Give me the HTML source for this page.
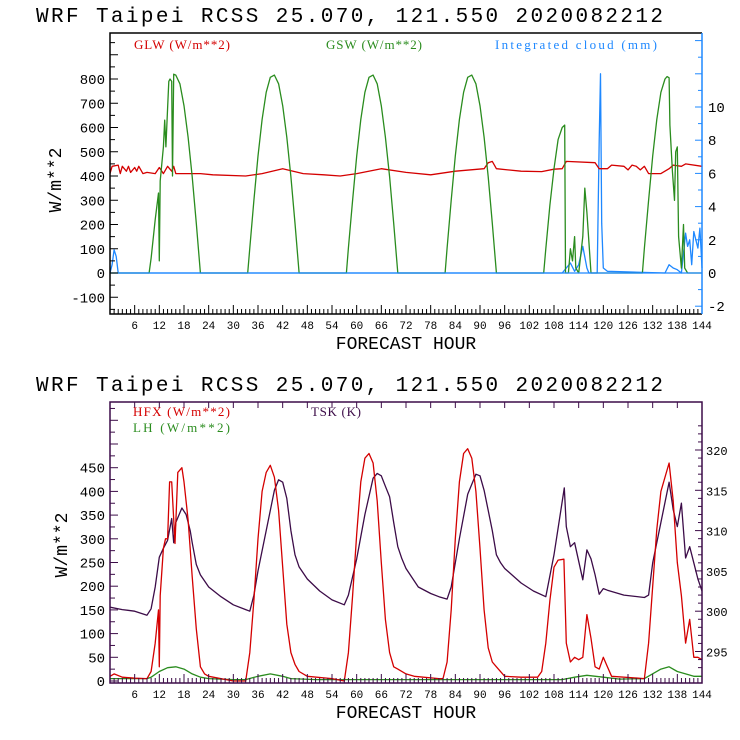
<!DOCTYPE html>
<html><head><meta charset="utf-8"><style>
html,body{margin:0;padding:0;background:#fff;}
svg{display:block;font-family:"Liberation Mono",monospace;}
</style></head><body>
<svg id="chart" width="740" height="740" viewBox="0 0 740 740" xmlns="http://www.w3.org/2000/svg">
<rect width="740" height="740" fill="#fff"/>
<g id="top"></g>
<g id="bot"></g>
</svg>
<script>
// ---- top panel data ----
const gswHours=[0,9.5,10,11,11.8,12,12.2,13,13.3,13.6,14,14.3,14.6,15,15.2,15.5,16,17,18,19,20,21,22,33.5,34,35,36,37,38,39,40,41,42,43,44,45,46,57.5,58,59,60,61,62,63,64,65,66,67,68,69,70,81.5,82,83,84,85,86,87,88,89,90,91,92,93,94,105.5,106,107,108,109,110,110.6,110.8,111.5,112,112.5,113,113.3,114,115,115.5,116,117,129.5,130,131,132,133,134,135,135.5,136,136.2,136.8,137.3,137.6,138,138.3,139,139.5,139.8,140.5,144];
const gswVals=[0,0,60,220,330,50,380,520,630,520,680,790,800,790,400,820,816,780,690,560,397,205,0,0,103,300,482,633,745,807,816,780,690,560,397,205,0,0,103,300,482,633,745,807,816,780,690,560,397,205,0,0,103,300,482,633,745,807,816,780,690,560,397,205,0,0,100,280,430,550,600,610,0,0,100,50,150,20,0,150,350,250,0,0,103,300,482,633,745,800,810,805,610,420,300,500,520,150,20,200,20,0,0];
const glwHours=[0,0.5,2,2.5,3,4,4.5,5,6,6.5,7,8,9,11,12,13,14,15,15.5,16,22,25,33,37,42,47,52,56,60,66,72,78,84,91,92,93,94,100,105,108,110,111,118,119,121,122,125,126,127,128,129,130,131,134,136,137,139,140,144];
const glwVals=[410,440,445,410,440,420,440,415,435,420,440,410,415,410,435,410,440,420,440,410,410,405,400,410,430,410,405,400,410,430,415,405,420,430,455,460,430,420,418,428,430,460,455,430,430,445,440,425,445,440,425,440,410,410,430,445,440,450,440];
const cldHours=[0,0.5,1,1.5,2,110,111,112,113,114,115,116,116.5,118.5,119,119.3,119.6,120,121,135,136,137,138,139,140,140.5,141,141.5,142,143,143.5,144];
const cldVals=[0,0.5,1.4,1,0,0,0.3,0.6,0.1,0.5,1.6,0.3,0,0,8,12,3,0.3,0.1,0,0.5,0.3,0.2,0,2.4,1.6,2,0.5,2.5,1.5,2.7,0.3];
const leftTicksTop=[-100,0,100,200,300,400,500,600,700,800];
const rightTicksTop=[-2,0,2,4,6,8,10];
const xTicks=[6,12,18,24,30,36,42,48,54,60,66,72,78,84,90,96,102,108,114,120,126,132,138,144];
// ---- bottom panel data ----
const hfxHours=[0,1,3,6,9,10,11,11.8,12,12.2,13,13.5,14,14.5,15,15.8,16.5,17.5,18,19,20,21,22,23,24,27,30,33,34,35,36,37,38,39,40,41,42,43,44,45,46,48,54,57,58,59,60,61,62,63,64,65,66,67,68,69,70,72,74,80,81,82,83,84,85,86,87,88,89,90,91,92,93,94,96,100,104,105,106,107,108,109,110.4,111,112,113,114,115,116,117,118,119,120,121,122,130,131,132,133,134,135,136,137,138,139,140,141,142,143,144];
const hfxVals=[10,15,8,6,5,20,80,150,30,180,280,300,300,420,420,290,440,450,420,340,220,110,30,15,10,5,0,0,60,170,300,400,440,455,430,360,240,120,60,35,20,10,5,0,60,180,310,420,470,480,460,380,250,130,60,30,25,15,10,5,5,40,150,300,420,480,490,470,400,280,150,70,40,30,10,8,8,20,80,170,240,255,257,80,40,50,45,50,140,90,30,25,50,30,10,5,80,200,320,400,430,460,380,250,180,80,130,50,50,45];
const tskHours=[0,3,6,9,10,11,12,13,14,15,15.5,16,17.5,18.5,19.5,20,21,22,24,27,30,33,34,35,36,38,40,41,42,43,44,45,46,48,51,54,57,58,60,62,64,65,66,67,68,69,70,71,72,75,78,80,82,83,85,87,89,90,91,92,93,94,95,96,100,103,106,108,110.5,111,112,113,115,116,117,118,119,120,121,125,130,131,132,134,136,137,138,139,140,141,142,143,144];
const tskVals=[300.5,300.2,300,299.5,300.3,303,306.7,307.8,308.8,311.5,308.5,311,312.8,312,310,308.5,305.8,304.5,303,301.8,300.8,300.2,300,302,305,310,315,316.3,316,314,310,307,305.5,304,302.5,301.4,300.8,302,306.5,312,316.5,317.1,316.8,315.5,314.2,311,308,306.5,305.3,303,302.2,301.8,301.5,303,309,314.5,317,316.8,315,312.5,310,307,306,305.3,303.5,302.5,301.8,307,315.3,310.5,308,308.5,303.9,307.6,306.5,304.5,302.1,302.8,302.6,302,301.7,302,306,311,316,312.6,310.5,313.4,306.6,308,306,304,302.5];
const lhHours=[0,9,10,12,14,16,18,20,22,24,30,33,36,39,42,44,50,110,113,116,120,124,130,134,136,138,140,142,144];
const lhVals=[5,5,8,20,28,30,25,15,8,5,3,3,10,15,10,5,3,3,8,12,8,4,5,25,30,20,15,10,10];
const leftTicksBot=[0,50,100,150,200,250,300,350,400,450];
const rightTicksBot=[295,300,305,310,315,320];

const NS="http://www.w3.org/2000/svg";
function mk(parent,tag,attrs){const e=document.createElementNS(NS,tag);for(const k in attrs)e.setAttribute(k,attrs[k]);parent.appendChild(e);return e;}
const X0=110,X1=702;
const xs=h=>X0+(X1-X0)*h/144;
const RED="#d40000",GREEN="#2a8c1e",BLUE="#1e88ff",PURPLE="#3c0c48";

function line(g,hours,vals,ys,color,name){
  let d="";hours.forEach((h,i)=>{d+=(i?"L":"M")+xs(h).toFixed(1)+","+ys(vals[i]).toFixed(1);});
  const p=mk(g,"path",{d:d,fill:"none",stroke:color,"stroke-width":"1.3","stroke-linejoin":"round"});
  
  
}
function txt(g,x,y,s,attrs,name){const t=mk(g,"text",Object.assign({x:x,y:y},attrs));t.textContent=s;
  
  return t;}

function xAxis(g,Yb,Yt,color,topTicks){
  for(let h=1;h<144;h++){const x=xs(h);const len=h%6===0?9:5;mk(g,"line",{x1:x,y1:Yb,x2:x,y2:Yb-len,stroke:color,"stroke-width":1});
    if(topTicks&&h%6===0)mk(g,"line",{x1:x,y1:Yt,x2:x,y2:Yt+6,stroke:color,"stroke-width":1});}
  xTicks.forEach(h=>{txt(g,xs(h),Yb+15,String(h),{"text-anchor":"middle","font-size":"11","fill":"#000"},"x-tick-label");});
}

// ---- TOP ----
(function(){
  const g=document.getElementById("top");
  const T=33,B=314;
  const yl=v=>273-v*0.2425;
  const yr=v=>273-v*16.6;
  txt(g,36,22,"WRF  Taipei RCSS   25.070, 121.550  2020082212",{"font-size":"21",textLength:"627",fill:"#000"},"chart-title");
  line(g,cldHours,cldVals,yr,BLUE,"cloud-line");
  line(g,glwHours,glwVals,yl,RED,"glw-line");
  line(g,gswHours,gswVals,yl,GREEN,"gsw-line");
  mk(g,"line",{x1:X0,y1:yl(0),x2:X1,y2:yl(0),stroke:BLUE,"stroke-width":1.3});
  mk(g,"path",{d:`M${X1},${T}H${X0}V${B}H${X1}`,fill:"none",stroke:"#000","stroke-width":1.5});
  mk(g,"line",{x1:X1,y1:T,x2:X1,y2:B,stroke:BLUE,"stroke-width":1.5});
  for(let v=-150;v<=950;v+=50){const y=yl(v);if(y<T||y>B)continue;mk(g,"line",{x1:X0,y1:y,x2:X0+(v%100===0?8:5),y2:y,stroke:"#000"});}
  leftTicksTop.forEach(v=>txt(g,105,yl(v)+5,String(v),{"text-anchor":"end","font-size":"14",fill:"#000"},"y-tick-label"));
  for(let v=-2;v<=14;v++){const y=yr(v);if(y<T||y>B)continue;mk(g,"line",{x1:X1,y1:y,x2:X1-(v%2===0?7:4),y2:y,stroke:BLUE});}
  rightTicksTop.forEach(v=>txt(g,708,yr(v)+5,String(v),{"font-size":"14",fill:"#000"},"y2-tick-label"));
  xAxis(g,B,T,"#000",false);
  txt(g,406,349,"FORECAST HOUR",{"text-anchor":"middle","font-size":"18",fill:"#000"},"x-axis-title");
  txt(g,0,0,"W/m**2",{"text-anchor":"middle","font-size":"18",fill:"#000",transform:"translate(61,180) rotate(-90)"},"y-axis-title");
  txt(g,134,49,"GLW (W/m**2)",{"font-family":"Liberation Serif,serif","font-size":"13",fill:RED,textLength:"96"},"legend-glw");
  txt(g,326,49,"GSW (W/m**2)",{"font-family":"Liberation Serif,serif","font-size":"13",fill:GREEN,textLength:"96"},"legend-gsw");
  txt(g,495,49,"Integrated cloud (mm)",{"font-family":"Liberation Serif,serif","font-size":"13",fill:BLUE,textLength:"162"},"legend-cloud");
})();

// ---- BOTTOM ----
(function(){
  const g=document.getElementById("bot");
  const T=402,B=683;
  const yl=v=>681-v*0.474;
  const yr=v=>450+(320-v)*8.06;
  txt(g,36,391,"WRF  Taipei RCSS   25.070, 121.550  2020082212",{"font-size":"21",textLength:"627",fill:"#000"},"chart-title-2");
  line(g,lhHours,lhVals,yl,GREEN,"lh-line");
  line(g,tskHours,tskVals,yr,PURPLE,"tsk-line");
  line(g,hfxHours,hfxVals,yl,RED,"hfx-line");
  mk(g,"rect",{x:X0,y:T,width:X1-X0,height:B-T,fill:"none",stroke:PURPLE,"stroke-width":1.5});
  for(let v=0;v<=575;v+=25){const y=yl(v);if(y<T)continue;mk(g,"line",{x1:X0,y1:y,x2:X0+(v%50===0?8:5),y2:y,stroke:PURPLE});}
  leftTicksBot.forEach(v=>txt(g,105,yl(v)+5,String(v),{"text-anchor":"end","font-size":"14",fill:"#000"},"y-tick-label"));
  for(let v=293;v<=323;v++){const y=yr(v);if(y<T||y>B)continue;mk(g,"line",{x1:X1,y1:y,x2:X1-(v%5===0?7:4),y2:y,stroke:PURPLE});}
  rightTicksBot.forEach(v=>txt(g,706,yr(v)+5,String(v),{"font-size":"12",fill:"#000"},"y2-tick-label"));
  xAxis(g,B,T,PURPLE,true);
  txt(g,406,718,"FORECAST HOUR",{"text-anchor":"middle","font-size":"18",fill:"#000"},"x-axis-title-2");
  txt(g,0,0,"W/m**2",{"text-anchor":"middle","font-size":"18",fill:"#000",transform:"translate(67,545) rotate(-90)"},"y-axis-title-2");
  txt(g,133,416,"HFX (W/m**2)",{"font-family":"Liberation Serif,serif","font-size":"13",fill:RED,textLength:"97"},"legend-hfx");
  txt(g,133,432,"LH  (W/m**2)",{"font-family":"Liberation Serif,serif","font-size":"13",fill:GREEN,textLength:"97"},"legend-lh");
  txt(g,311,416,"TSK (K)",{"font-family":"Liberation Serif,serif","font-size":"13",fill:PURPLE,textLength:"50"},"legend-tsk");
})();
</script>
</body></html>
